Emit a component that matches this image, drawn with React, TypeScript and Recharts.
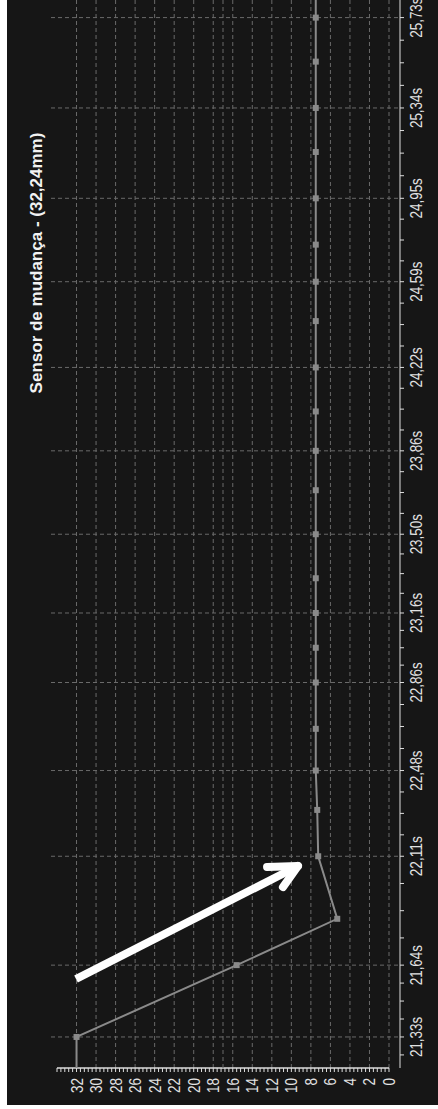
import { LineChart, Line, XAxis, YAxis, CartesianGrid, ReferenceLine } from 'recharts';

// sample times in seconds and the sensor reading in mm at each one
const times = [
  21.02, 21.33, 21.64, 21.84, 22.11, 22.31, 22.48, 22.66, 22.86, 23.01, 23.16, 23.31, 23.5,
  23.69, 23.86, 24.03, 24.22, 24.42, 24.59, 24.75, 24.95, 25.15, 25.34, 25.54, 25.73, 25.92,
];
const readings = [
  32, 32, 15.6, 5.3, 7.25, 7.35, 7.5, 7.5, 7.5, 7.5, 7.5, 7.5, 7.5,
  7.5, 7.5, 7.5, 7.5, 7.5, 7.5, 7.5, 7.5, 7.5, 7.5, 7.5, 7.5, 7.5,
];

// labelled time ticks (every second sample)
const timeLabels = [21.33, 21.64, 22.11, 22.48, 22.86, 23.16, 23.5, 23.86, 24.22, 24.59, 24.95, 25.34, 25.73];
const valueLabels = [32, 30, 28, 26, 24, 22, 20, 18, 16, 14, 12, 10, 8, 6, 4, 2, 0];

const timeDomain = [21.196, 25.806];
const valueMax = 34;
const markerLine = 17;

// arrow annotation, in data units [time, mm]
const arrowTail = [21.58, 32.05];
const arrowTip = [22.068, 9.32];
const arrowWings = [
  [22.064, 12.49],
  [21.977, 10.86],
];

const data = times.map((t, i) => ({ t, mm: readings[i] }));

// three minor ticks between labelled ones, plus one before the first
const timeTicks: number[] = [];
timeTicks.push(timeLabels[0] - (timeLabels[1] - timeLabels[0]) / 4);
timeLabels.forEach((t, i) => {
  timeTicks.push(t);
  const next = timeLabels[i + 1];
  if (next !== undefined) {
    for (let k = 1; k < 4; k++) timeTicks.push(t + ((next - t) * k) / 4);
  }
});
const timeLabelSet = new Set(timeLabels);

const valueTicks: number[] = [];
for (let i = 0; i <= valueMax * 2.5; i++) valueTicks.push(Math.round(i * 4) / 10);
const valueLabelSet = new Set(valueLabels);

const W = 1105;
const H = 431;
const BG = '#161616';
const GRID = '#6a6a6a';
const AXIS = '#dedede';
const SERIES = '#8a8a8a';
const TEXT = '#e2e2e2';
const FONT = "'Liberation Sans', Arial, sans-serif";
// narrow axis lettering: squeeze glyphs to about 6.7px per character
const CHAR_W = 6.7;

const fmtTime = (v: number) => v.toFixed(2).replace('.', ',') + 's';

function TimeTick({ x, y, payload }: any) {
  if (!timeLabelSet.has(payload.value)) return <g />;
  const label = fmtTime(payload.value);
  return (
    <text
      x={x}
      y={y + 16}
      textAnchor="middle"
      fill={TEXT}
      fontSize={16}
      fontFamily={FONT}
      textLength={label.length * CHAR_W}
      lengthAdjust="spacingAndGlyphs"
    >
      {label}
    </text>
  );
}

function ValueTick({ x, y, payload }: any) {
  if (!valueLabelSet.has(payload.value)) return <g />;
  const label = String(payload.value);
  return (
    <text
      x={x}
      y={y + 6}
      textAnchor="end"
      fill={TEXT}
      fontSize={16}
      fontFamily={FONT}
      textLength={label.length * 7.5}
      lengthAdjust="spacingAndGlyphs"
    >
      {label}
    </text>
  );
}

function SquareDot({ cx, cy, index }: any) {
  if (cx == null || cy == null) return <g key={index} />;
  return <rect key={index} x={cx - 3} y={cy - 3} width={6} height={6} fill={SERIES} />;
}

export default function App() {
  return (
    <div style={{ position: 'absolute', left: 0, top: 0, width: 438, height: 1109, background: '#fff' }}>
      <div style={{ position: 'absolute', left: 7, top: 0, width: H, height: W, background: BG, overflow: 'hidden' }}>
        {/* chart is laid out landscape and turned a quarter counter-clockwise */}
        <div
          style={{
            position: 'absolute',
            left: 0,
            top: 0,
            width: W,
            height: H,
            transformOrigin: '0 0',
            transform: `translateY(${W}px) rotate(-90deg)`,
          }}
        >
          <LineChart width={W} height={H} data={data} margin={{ top: 44, right: 0, bottom: 0, left: 0 }}>
            <CartesianGrid
              stroke={GRID}
              strokeDasharray="4 3"
              horizontalValues={valueLabels}
              verticalValues={timeLabels}
            />
            <XAxis
              dataKey="t"
              type="number"
              domain={timeDomain}
              allowDataOverflow
              ticks={timeTicks}
              interval={0}
              height={38}
              stroke={AXIS}
              tickSize={4}
              tickMargin={2}
              tick={<TimeTick />}
            />
            <YAxis
              type="number"
              domain={[0, valueMax]}
              allowDataOverflow
              ticks={valueTicks}
              interval={0}
              width={37}
              padding={{ top: 6, bottom: 11 }}
              axisLine={false}
              stroke={AXIS}
              tickSize={4}
              tickMargin={6}
              tick={<ValueTick />}
            />
            <ReferenceLine
              segment={[
                { x: timeDomain[0], y: 0 },
                { x: timeDomain[0], y: valueMax },
              ]}
              stroke={AXIS}
              strokeWidth={1.5}
              ifOverflow="visible"
            />
            <ReferenceLine y={markerLine} stroke={GRID} strokeDasharray="4 3" />
            <Line
              dataKey="mm"
              stroke={SERIES}
              strokeWidth={2}
              dot={<SquareDot />}
              isAnimationActive={false}
            />
            <ReferenceLine
              segment={[
                { x: arrowTail[0], y: arrowTail[1] },
                { x: arrowTip[0], y: arrowTip[1] },
              ]}
              stroke="#fff"
              strokeWidth={8}
              ifOverflow="visible"
            />
            {arrowWings.map((w, i) => (
              <ReferenceLine
                key={i}
                segment={[
                  { x: w[0], y: w[1] },
                  { x: arrowTip[0], y: arrowTip[1] },
                ]}
                stroke="#fff"
                strokeWidth={8}
                strokeLinecap="round"
                ifOverflow="visible"
              />
            ))}
          </LineChart>
          <svg width={W} height={H} style={{ position: 'absolute', left: 0, top: 0, pointerEvents: 'none' }}>
            <text
              x={842}
              y={35}
              textAnchor="middle"
              fill="#f2f2f2"
              fontSize={17}
              fontWeight="bold"
              fontFamily={FONT}
            >
              Sensor de mudança - (32,24mm)
            </text>
          </svg>
        </div>
      </div>
    </div>
  );
}
